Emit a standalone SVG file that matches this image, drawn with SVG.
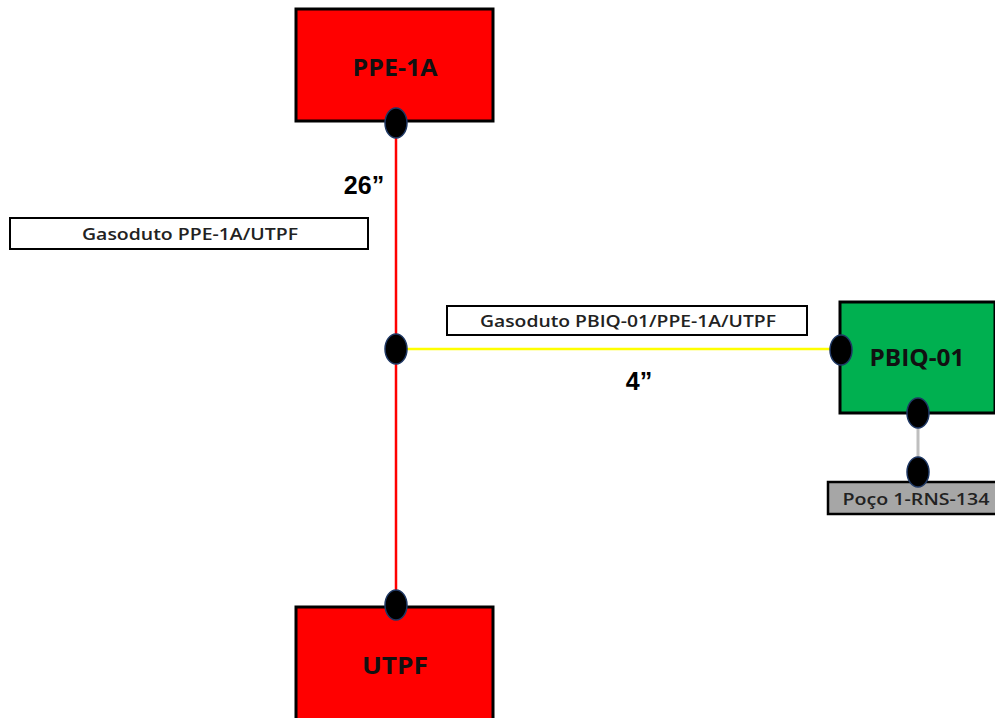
<svg xmlns="http://www.w3.org/2000/svg" width="995" height="718" viewBox="0 0 995 718">
<style>
.box{stroke:#000;stroke-width:3}
.lbl{fill:#fff;stroke:#000;stroke-width:2}
.nt{font-family:"Open Sans","Liberation Sans",sans-serif;font-weight:bold;font-size:23px;fill:#111;text-anchor:middle}
.lt{font-family:"Open Sans","Liberation Sans",sans-serif;font-weight:600;font-size:17px;fill:#222;text-anchor:middle}
.dim{font-family:"Liberation Sans",Arial,sans-serif;font-weight:bold;font-size:25px;fill:#000;text-anchor:middle}
.dot{fill:#000;stroke:#1f3864;stroke-width:1.5}
</style>
<g id="connectors">
<line x1="396" y1="122" x2="396" y2="605" stroke="#ff0000" stroke-width="2.5"/>
<line x1="396" y1="349" x2="841" y2="349" stroke="#ffff00" stroke-width="2.5"/>
<line x1="918" y1="413" x2="918" y2="472" stroke="#bfbfbf" stroke-width="3"/>
</g>
<g id="PPE-1A">
<rect class="box" x="296" y="9" width="197" height="112" fill="#ff0000"/>
<text class="nt" x="395" y="76" textLength="85" lengthAdjust="spacingAndGlyphs">PPE-1A</text>
</g>
<g id="UTPF">
<rect class="box" x="296" y="607" width="197" height="120" fill="#ff0000"/>
<text class="nt" x="395" y="674" textLength="66" lengthAdjust="spacingAndGlyphs">UTPF</text>
</g>
<g id="PBIQ-01">
<rect class="box" x="840" y="302" width="155" height="111" fill="#00b050"/>
<text class="nt" x="917" y="366" textLength="95" lengthAdjust="spacingAndGlyphs">PBIQ-01</text>
</g>
<g id="Poco">
<rect x="828" y="482" width="170" height="32" fill="#a6a6a6" stroke="#000" stroke-width="2.5"/>
<text class="lt" x="916" y="505" fill="#262626" textLength="147" lengthAdjust="spacingAndGlyphs">Poço 1-RNS-134</text>
</g>
<g id="label-ppe-utpf">
<rect class="lbl" x="10" y="218" width="358" height="31"/>
<text class="lt" x="190" y="240" textLength="216" lengthAdjust="spacingAndGlyphs">Gasoduto PPE-1A/UTPF</text>
</g>
<g id="label-pbiq">
<rect class="lbl" x="447" y="306" width="360" height="29"/>
<text class="lt" x="628" y="327" textLength="296" lengthAdjust="spacingAndGlyphs">Gasoduto PBIQ-01/PPE-1A/UTPF</text>
</g>
<g id="dims">
<text class="dim" x="364" y="194">26”</text>
<text class="dim" x="639" y="390">4”</text>
</g>
<g id="junctions">
<ellipse class="dot" cx="396" cy="123" rx="11" ry="15"/>
<ellipse class="dot" cx="396" cy="349" rx="11" ry="15"/>
<ellipse class="dot" cx="841" cy="350" rx="11" ry="15"/>
<ellipse class="dot" cx="918" cy="413" rx="11" ry="15"/>
<ellipse class="dot" cx="918" cy="472" rx="11" ry="15"/>
<ellipse class="dot" cx="396" cy="605" rx="11" ry="15"/>
</g>
</svg>
